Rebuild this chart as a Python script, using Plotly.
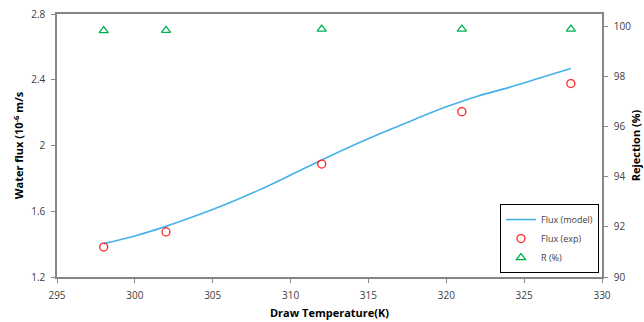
import plotly.graph_objects as go

# Data
temp_model = [298, 300, 302, 304, 306, 308, 310, 312, 314, 316, 318, 320, 322, 324, 326, 328]
flux_model = [1.403, 1.450, 1.508, 1.575, 1.648, 1.730, 1.820, 1.912, 2.000, 2.082, 2.160, 2.235, 2.300, 2.352, 2.410, 2.469]

temp_exp = [298, 302, 312, 321, 328]
flux_exp = [1.382, 1.474, 1.887, 2.206, 2.377]
rejection = [99.84, 99.85, 99.9, 99.9, 99.9]

x_ticks = [295, 300, 305, 310, 315, 320, 325, 330]
y_ticks = [1.2, 1.6, 2.0, 2.4, 2.8]
y_tick_text = ["1.2", "1.6", "2", "2.4", "2.8"]
y2_ticks = [90, 92, 94, 96, 98, 100]

FONT = "Open Sans"
AX = "#868686"
TITLE_FONT = dict(family=FONT, size=11, color="black", weight="bold")

fig = go.Figure()
fig.add_trace(go.Scatter(x=temp_model, y=flux_model, mode="lines", name="Flux (model)",
                         line=dict(color="#45b1e8", width=1.6, shape="spline")))
fig.add_trace(go.Scatter(x=temp_exp, y=flux_exp, mode="markers", name="Flux (exp)",
                         marker=dict(symbol="circle-open", color="#ff2020", size=8, line=dict(width=1.3))))
fig.add_trace(go.Scatter(x=temp_exp, y=rejection, mode="markers", name="R (%)", yaxis="y2",
                         marker=dict(symbol="triangle-up-open", color="#00b050", size=8, line=dict(width=1.3))))

fig.update_layout(
    width=644, height=322,
    margin=dict(l=57, r=42, t=14, b=45),
    paper_bgcolor="white", plot_bgcolor="white",
    font=dict(family=FONT, size=10, color="#404040"),
    showlegend=True,
    legend=dict(x=0.9945, y=0.015, xanchor="right", yanchor="bottom",
                bgcolor="white", bordercolor="black", borderwidth=1,
                font=dict(family=FONT, size=9, color="#404040"),
                tracegroupgap=0, itemwidth=30),
    xaxis=dict(range=[295, 330], tickvals=x_ticks, showgrid=False, zeroline=False,
               showline=True, linecolor=AX, linewidth=1.5, mirror=True, automargin=False,
               ticks="outside", ticklen=4, tickcolor=AX, ticklabelstandoff=4,
               title=dict(text="Draw Temperature(K)", standoff=9, font=TITLE_FONT)),
    yaxis=dict(range=[1.2, 2.8], tickvals=y_ticks, ticktext=y_tick_text, showgrid=False, zeroline=False,
               showline=True, linecolor=AX, linewidth=1.5, mirror=True, automargin=False,
               ticks="outside", ticklen=4, tickcolor=AX, ticklabelstandoff=4,
               title=dict(text="Water flux (10<sup>-6</sup> m/s", standoff=5, font=TITLE_FONT)),
    yaxis2=dict(range=[90, 100.5], tickvals=y2_ticks, overlaying="y", side="right",
                showgrid=False, zeroline=False, showline=True, linecolor=AX, linewidth=1.5,
                automargin=False, ticks="outside", ticklen=4, tickcolor=AX, ticklabelstandoff=4,
                title=dict(text="Rejection (%)", standoff=2, font=TITLE_FONT)),
)

fig.write_html("out.html", config={"displayModeBar": False},
               post_script="document.body.style.margin='0';document.body.style.overflow='hidden';")
